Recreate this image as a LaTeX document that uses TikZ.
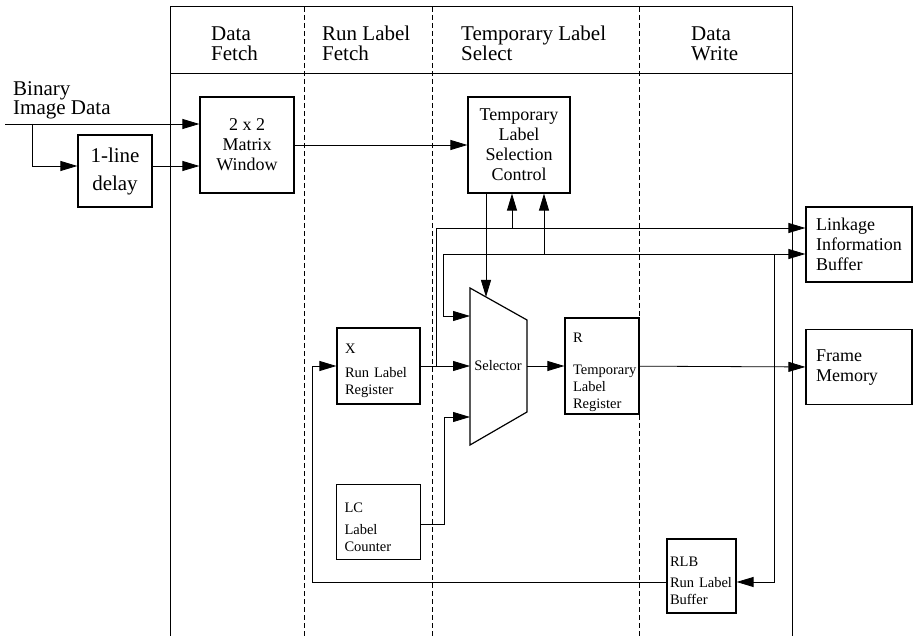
\documentclass[tikz,border=0pt]{standalone}
\usepackage{fontspec}
\setmainfont{Liberation Serif}
\usetikzlibrary{arrows.meta,positioning}
\tikzset{
    every picture/.style={line cap=butt,line join=miter},
    procbox/.style={draw,line width=1.2pt,fill=white,align=center,inner sep=0pt,
      font=\fontsize{18}{20}\selectfont},
    regbox/.style={draw,line width=1.2pt,fill=white,align=left,text height=20pt,
      inner xsep=8pt,inner ysep=0pt,font=\fontsize{14.5}{17}\selectfont},
    outbox/.style={draw,line width=1.2pt,fill=white,align=left,text width=86pt,
      inner xsep=10pt,inner ysep=0pt,minimum height=75pt,
      font=\fontsize{18}{20}\selectfont},
    headtext/.style={anchor=base west,inner sep=0pt,align=left,
      font=\fontsize{21}{20}\selectfont},
    boxline/.style={line width=1.2pt},
    sigline/.style={-{Triangle[length=17pt,width=10pt]},line width=0.8pt},
    colline/.style={line width=0.8pt,dash pattern=on 5pt off 3pt},
    frameline/.style={line width=1pt}
}

\begin{document}
\begin{tikzpicture}[x=1pt,y=-1pt]
    \useasboundingbox (0,0) rectangle (914,636);
    % stage frame
    \foreach \x in {304,432,639}
        \draw[colline] (\x,7) -- (\x,636);
    \draw[frameline] (170,636) -- (170,7) -- (792,7) -- (792,636);
    \draw[frameline] (170,74) -- (792,74);
    \node[headtext] (hfetch) at (211,61) {Data\\Fetch};
    \node[headtext] (hrunfetch) at (322,61) {Run Label\\Fetch};
    \node[headtext] (htmpsel) at (461,61) {Temporary Label\\Select};
    \node[headtext] (hwrite) at (691,61) {Data\\Write};
    % blocks
    \node[headtext,font=\fontsize{21}{19}\selectfont] (bintext) at (13,115) {Binary\\Image Data};
    \node[procbox,minimum width=74pt,minimum height=72pt,
      font=\fontsize{21}{28}\selectfont] (dly) at (115,171) {1-line\\delay};
    \node[procbox,minimum width=94pt,minimum height=96pt] (mat) at (247,145) {2 x 2\\Matrix\\Window};
    \node[procbox,minimum width=102pt,minimum height=96pt] (tlsc) at (519,145)
      {Temporary\\Label\\Selection\\Control};
    \node[regbox,text width=67pt,minimum height=76pt] (X) at (378.5,366) {X\\[7pt]Run Label\\Register};
    \node[regbox,text width=68pt,minimum height=75pt,below=79pt of X] (LC) {LC\\[5pt]Label\\Counter};
    \node[regbox,text width=58pt,text height=22pt,minimum height=96pt] (R) at (602,366)
      {R\\[15pt]Temporary\\Label\\Register};
    \node[regbox,text width=63pt,inner xsep=3pt,minimum height=74pt] (RLB) at (701.5,576)
      {RLB\\[4pt]Run Label\\Buffer};
    \node[outbox] (link) at (859,244.5) {Linkage\\Information\\Buffer};
    \node[outbox,below=46.5pt of link] (frame) {Frame\\Memory};
    % selector
    \coordinate (selA) at (470,288);
    \coordinate (selB) at (527,320);
    \coordinate (selC) at (527,412);
    \coordinate (selD) at (470,445);
    \draw[boxline] (selA) -- (selB) -- (selC) -- (selD) -- cycle;
    \node[inner sep=0pt,font=\fontsize{14.5}{17}\selectfont] (sel) at (498,366) {Selector};
    \coordinate (selin1) at (470,316);
    \coordinate (selin2) at (470,366);
    \coordinate (selin3) at (470,417);
    \coordinate (seltop) at (486,297);
    \coordinate (selout) at (527,366);
    % taps and bends
    \coordinate (binin) at (5,124);
    \coordinate (bintap) at (32,124);
    \coordinate (xtap) at (436,366);
    \coordinate (xbend) at (436,228);
    \coordinate (ctlA) at (512,228);
    \coordinate (rtap) at (774,366);
    \coordinate (rbend) at (443,254);
    \coordinate (ctlB) at (544,254);
    \coordinate (rlbbend) at (312,582);
    \coordinate (lcbend) at (444,417);
    % connectors
    \draw[sigline] (binin) -- ([yshift=21pt]mat.west);
    \draw[sigline] (bintap) |- ([yshift=5pt]dly.west);
    \draw[sigline] ([yshift=5pt]dly.east) -- ([yshift=-21pt]mat.west);
    \draw[sigline] (mat) -- (tlsc);
    \draw[sigline] (seltop |- tlsc.south) -- (seltop);
    \draw[sigline] (X) -- (selin2);
    \draw[sigline] (xtap) -- (xbend) -- ([yshift=16.5pt]link.west);
    \draw[sigline] (ctlA) -- (ctlA |- tlsc.south);
    \draw[sigline] (rtap) |- (rbend) |- (selin1);
    \draw[sigline] (rtap |- rbend) -- ([yshift=-9.5pt]link.west);
    \draw[sigline] (ctlB) -- (ctlB |- tlsc.south);
    \draw[sigline] (selout) -- (R);
    \draw[sigline] (R) -- (frame);
    \draw[sigline] (rtap) |- ([yshift=-6pt]RLB.east);
    \draw[sigline] ([yshift=-6pt]RLB.west) -- (rlbbend) |- (X);
    \draw[sigline] ([yshift=-2.5pt]LC.east) -| (lcbend) -- (selin3);
\end{tikzpicture}
\end{document}
